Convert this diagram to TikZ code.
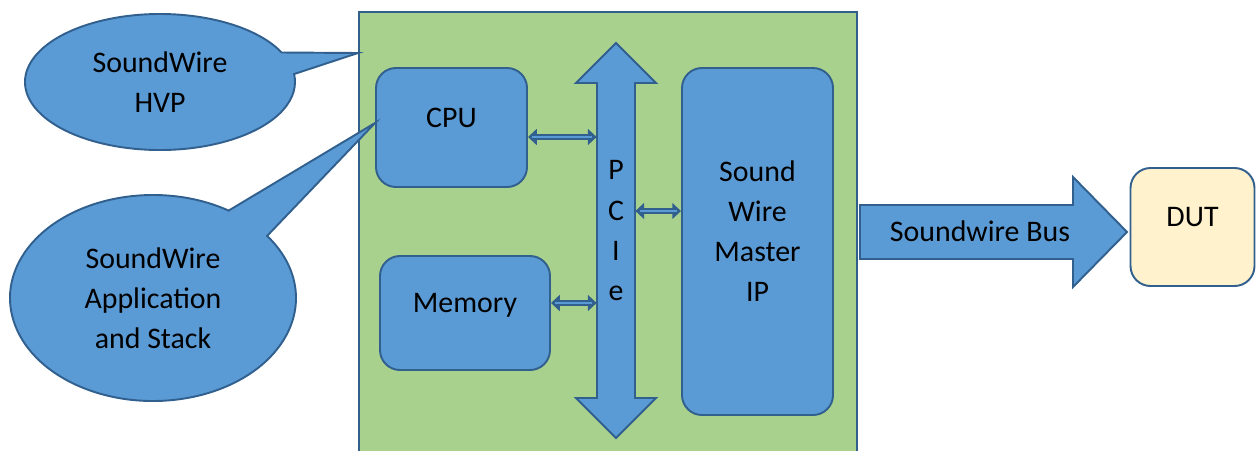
\documentclass[tikz,border=0pt]{standalone}
\usepackage{fontspec}
\setmainfont{Carlito}
\usetikzlibrary{arrows.meta,positioning,calc,shapes.callouts}
\definecolor{swfill}{HTML}{5B9BD5}
\definecolor{swline}{HTML}{31608F}
\definecolor{swboard}{HTML}{A9D18E}
\definecolor{swdut}{HTML}{FFF2CC}

\begin{document}
\begin{tikzpicture}[
    font=\fontsize{17}{22.8}\selectfont,
    board/.style={draw=swline, line width=1.1pt, fill=swboard, anchor=north west, inner sep=0pt},
    blk/.style={draw=swline, line width=1.1pt, fill=swfill, rounded corners=0.4cm, align=center,
                text depth=0.4cm, inner sep=2pt},
    dutbox/.style={blk, fill=swdut},
    bubble/.style={ellipse callout, draw=swline, line width=1.1pt, fill=swfill, align=center, inner sep=0pt},
    fat/.style={draw=swline, line width=1.1pt, fill=swfill, line join=miter},
    linkout/.style={{Triangle[length=5pt,width=9pt]}-{Triangle[length=5pt,width=9pt]}, draw=swline, line width=3.4pt},
    linkin/.style={draw=swfill, line width=1.2pt, shorten <=2.5pt, shorten >=2.5pt}
  ]
  \clip (0,0) rectangle (25.12,-9);
  \node[board, minimum width=9.96cm, minimum height=9.4cm] (board) at (7.16,-0.22) {};
  \node[blk, minimum width=3.02cm, minimum height=2.38cm] (cpu) at (9.03,-2.55) {CPU};
  \node[blk, minimum width=3.4cm, minimum height=2.28cm] (mem) at (9.3,-6.26) {Memory};
  \node[blk, minimum width=3.02cm, minimum height=6.94cm] (swm) at (15.15,-4.83) {Sound\\Wire\\Master\\IP};

  % PCIe bus arrow
  \coordinate (pcitop) at (12.32,-0.86);
  \coordinate (pcibot) at (12.32,-8.76);
  \draw[fat] (pcitop) -- ++(0.8,-0.8) -- ++(-0.42,0) -- ++(0,-6.3) -- ++(0.42,0) -- (pcibot)
    -- ++(-0.8,0.8) -- ++(0.42,0) -- ++(0,6.3) -- ++(-0.42,0) -- cycle;
  \node[minimum width=0.76cm, minimum height=6.3cm, inner sep=0pt, align=center, text depth=0.4cm] (pcie) at (12.32,-4.81) {P\\C\\I\\e};

  \coordinate (cpuR) at ([yshift=-0.19cm]cpu.east);
  \coordinate (cpuB) at (cpuR -| pcie.west);
  \coordinate (memR) at ([yshift=0.2cm]mem.east);
  \coordinate (memB) at (memR -| pcie.west);
  \coordinate (swmB) at ([yshift=0.59cm]pcie.east);
  \coordinate (swmL) at (swmB -| swm.west);
  \foreach \a/\b in {cpuR/cpuB, memR/memB, swmB/swmL} {
    \draw[linkout] (\a) -- (\b);
    \draw[linkin] (\a) -- (\b);
  }

  % Soundwire bus to the DUT
  \coordinate (bustail) at (17.2,-4.64);
  \coordinate (bustip) at (22.54,-4.64);
  \draw[fat] (bustail) ++(0,0.54) -- ++(4.26,0) -- ++(0,0.56) -- (bustip) -- ++(-1.08,-1.1)
    -- ++(0,0.56) -- ++(-4.26,0) -- cycle;
  \node (bus) at (19.6,-4.62) {Soundwire Bus};
  \node[dutbox, minimum width=2.48cm, minimum height=2.36cm] (dut) at (23.85,-4.54) {DUT};

  \node[bubble, minimum width=5.4cm, minimum height=2.72cm, callout pointer arc=19,
        callout absolute pointer={([yshift=-0.84cm]board.north west)}] (hvp) at (3.2,-1.64) {SoundWire\\HVP};
  \node[bubble, minimum width=5.72cm, minimum height=4.12cm, callout pointer arc=21,
        callout absolute pointer={([yshift=0.09cm]cpu.west)}] (app) at (3.06,-5.96) {SoundWire\\Application\\and Stack};
\end{tikzpicture}
\end{document}
